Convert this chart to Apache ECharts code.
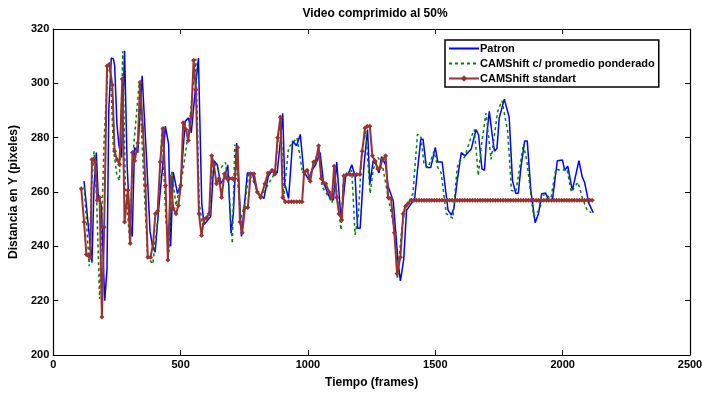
<!DOCTYPE html>
<html>
<head>
<meta charset="utf-8">
<script src="https://cdn.jsdelivr.net/npm/echarts@6/dist/echarts.min.js"></script>
<style>
  html, body { margin: 0; padding: 0; background: #fff; }
  #chart { width: 720px; height: 394px; }
</style>
</head>
<body>
<div id="chart"></div>
<script>
// datos: [frame, distancia en Y]
const xTicks = [0, 500, 1000, 1500, 2000, 2500];
const yTicks = [200, 220, 240, 260, 280, 300, 320];

const patron = [
  [121, 264], [135, 250], [152, 234], [160, 262], [169, 274.5], [176, 259.4], [189, 255], [202, 220],
  [211, 231.5], [218, 290], [228, 309.3], [236, 309], [241, 306.7], [250, 285], [258, 277], [268, 272.7],
  [280, 312], [290, 270], [300, 250], [310, 243.6], [319, 276.4], [332, 274.5], [349, 302.8], [365, 274.7],
  [380, 245.5], [390, 240], [400, 237.8], [415, 255], [430, 270], [440, 284.2], [453, 277.6], [461, 240],
  [471, 267.3], [488, 259.4], [500, 263], [518, 286], [531, 287.3], [542, 281.8], [560, 300], [570, 309.3],
  [583, 255.8], [592, 248], [618, 251], [631, 271.5], [644, 270], [657, 263], [673, 265.5], [685, 270],
  [698, 244.8], [707, 252], [720, 278], [728, 264], [739, 243.6], [750, 254.5], [762, 267], [782, 267],
  [800, 260], [827, 257.6], [845, 266], [860, 268], [879, 267], [893, 280], [901, 289], [909, 263],
  [924, 257.6], [940, 278.8], [955, 277], [970, 281.2], [983, 267.9], [1003, 264.5], [1015, 268], [1030, 270],
  [1048, 274.5], [1061, 263.4], [1085, 258], [1100, 257], [1113, 271], [1130, 249.5], [1148, 266], [1160, 267],
  [1172, 270], [1185, 266], [1195, 246.7], [1205, 246.7], [1220, 270], [1234, 283], [1243, 263], [1256, 271.5],
  [1268, 270], [1279, 267], [1289, 273], [1305, 270], [1315, 262], [1335, 256.7], [1354, 234], [1363, 227.3],
  [1376, 235.2], [1387, 253.3], [1400, 255], [1419, 257.6], [1430, 268], [1443, 279.4], [1452, 279.4], [1465, 269],
  [1482, 269], [1500, 276.4], [1510, 271], [1527, 271], [1550, 253.3], [1563, 251.5], [1573, 254], [1586, 264.2],
  [1602, 274.5], [1617, 273.3], [1641, 275.8], [1660, 283], [1670, 281], [1683, 268.5], [1693, 268], [1703, 281.8],
  [1712, 289.7], [1722, 282], [1732, 275], [1742, 276], [1751, 287.3], [1771, 294.2], [1790, 287.5], [1803, 264.2],
  [1816, 259.4], [1826, 259.6], [1836, 269], [1851, 278.8], [1861, 278.8], [1875, 260.6], [1892, 248.7], [1905, 252],
  [1918, 259.4], [1933, 259.6], [1945, 257], [1960, 257.2], [1979, 271.5], [1999, 271.8], [2008, 268], [2020, 269.5],
  [2038, 260.6], [2064, 271.5], [2077, 265.5], [2086, 263.6], [2103, 255.8], [2120, 252.4]
];

const promedio = [
  [121, 262], [130, 250], [141, 232.7], [150, 262], [160, 275], [170, 258], [182, 220.6], [200, 280],
  [215, 306.7], [225, 304], [236, 276], [250, 266], [260, 264.2], [273, 311.8], [283, 262], [300, 242.4],
  [313, 274], [338, 300.6], [355, 265], [371, 236], [391, 233.5], [410, 250], [427, 283.6], [442, 250],
  [455, 238], [465, 268], [482, 255], [508, 267], [535, 285], [550, 300], [560, 309], [573, 256],
  [585, 248], [612, 251], [625, 272], [650, 268], [676, 270.9], [690, 261], [703, 241], [713, 277.5],
  [724, 264], [736, 250], [753, 256], [768, 267], [790, 263], [815, 258], [870, 267], [892, 288.5],
  [905, 258], [924, 276.4], [937, 277.6], [957, 280], [977, 268], [1003, 264.5], [1042, 275.5], [1055, 262],
  [1083, 258], [1094, 256], [1108, 264], [1130, 246], [1139, 264], [1158, 267], [1172, 267.9], [1185, 244.2],
  [1198, 251], [1211, 274.5], [1227, 282.4], [1244, 259.4], [1257, 268.5], [1276, 272.7], [1295, 268.5], [1315, 258],
  [1341, 246], [1351, 227.9], [1367, 245], [1380, 253.3], [1393, 255.8], [1412, 259.4], [1430, 281.2], [1443, 280.6],
  [1456, 270], [1472, 269], [1495, 275], [1510, 269], [1523, 267], [1543, 252], [1569, 250.3], [1586, 269],
  [1595, 271.5], [1614, 272.7], [1640, 280], [1653, 283], [1669, 266], [1680, 276.4], [1699, 289], [1719, 272],
  [1745, 289.7], [1762, 293.6], [1784, 282.4], [1799, 260.6], [1816, 260], [1846, 277.6], [1859, 271.5], [1886, 251],
  [1908, 253.3], [1928, 259.4], [1954, 257.6], [1973, 268.5], [1992, 267.9], [2017, 268.5], [2034, 260], [2060, 263.6],
  [2077, 258], [2096, 253.3], [2112, 252.4]
];

const standart = [
  [110, 261.2], [121, 249], [130, 237], [138, 236.5], [146, 236], [152, 272], [160, 272], [165, 271],
  [173, 257], [182, 258], [191, 214], [200, 247], [211, 306.4], [220, 307], [232, 299.4], [241, 275],
  [250, 272], [260, 270], [271, 301.6], [280, 249], [293, 260.6], [302, 241], [311, 274.5], [320, 271.5],
  [332, 278], [341, 300.4], [352, 283.6], [362, 262.4], [371, 236], [382, 236], [392, 241], [401, 252],
  [410, 253], [420, 271], [431, 283.4], [441, 262.4], [450, 235], [461, 265.5], [471, 254], [482, 252],
  [491, 255], [501, 262.4], [510, 285.5], [521, 283], [530, 279], [542, 288], [551, 308.5], [560, 297.6],
  [572, 252], [582, 244], [592, 250], [602, 250.5], [612, 252], [622, 273.3], [631, 270], [641, 263],
  [651, 265], [661, 258], [672, 266.7], [682, 265], [692, 265], [703, 265], [713, 265], [724, 276.4],
  [733, 249], [742, 245], [753, 254.3], [764, 254.3], [775, 266.7], [788, 266.7], [801, 260], [814, 258],
  [831, 263], [843, 267], [859, 268], [870, 266.5], [881, 280], [892, 287.5], [901, 258], [911, 256.4],
  [924, 256.4], [935, 256.4], [945, 256.4], [956, 256.4], [967, 256.4], [977, 256.4], [985, 267.3], [997, 268],
  [1009, 264], [1022, 271], [1031, 271.5], [1042, 277], [1052, 265], [1061, 263.4], [1070, 263], [1083, 260],
  [1094, 258], [1103, 269.5], [1113, 258], [1122, 252], [1133, 249.7], [1141, 266], [1152, 266.4], [1165, 266.4],
  [1178, 266.4], [1191, 266.4], [1204, 266.4], [1213, 275], [1224, 283.6], [1233, 284.2], [1243, 284.2], [1253, 273.3],
  [1263, 271.5], [1274, 268.5], [1283, 269], [1293, 272], [1305, 273.3], [1315, 258], [1326, 257.6], [1339, 245],
  [1350, 230], [1363, 236], [1374, 252], [1383, 254.8], [1393, 255.8], [1406, 257],
  [1416, 257], [1426, 257], [1436, 257], [1446, 257], [1456, 257], [1466, 257], [1476, 257], [1486, 257],
  [1496, 257], [1506, 257], [1516, 257], [1526, 257], [1536, 257], [1546, 257], [1556, 257], [1566, 257],
  [1576, 257], [1586, 257], [1596, 257], [1606, 257], [1616, 257], [1626, 257], [1636, 257], [1646, 257],
  [1656, 257], [1666, 257], [1676, 257], [1686, 257], [1696, 257], [1706, 257], [1716, 257], [1726, 257],
  [1736, 257], [1746, 257], [1756, 257], [1766, 257], [1776, 257], [1786, 257], [1796, 257], [1806, 257],
  [1816, 257], [1826, 257], [1836, 257], [1846, 257], [1856, 257], [1866, 257], [1876, 257], [1886, 257],
  [1896, 257], [1906, 257], [1916, 257], [1926, 257], [1936, 257], [1946, 257], [1956, 257], [1966, 257],
  [1976, 257], [1986, 257], [1996, 257], [2006, 257], [2016, 257], [2026, 257], [2036, 257], [2046, 257],
  [2056, 257], [2066, 257], [2076, 257], [2086, 257], [2096, 257], [2106, 257], [2116, 257]
];

const font = "'Liberation Sans', Arial, sans-serif";

const chart = echarts.init(document.getElementById("chart"));

// eje tipo matlab: caja completa con marcas hacia adentro
function xAx(pos, show) {
  return {
    type: "value",
    position: pos,
    min: xTicks[0],
    max: xTicks[xTicks.length - 1],
    interval: 500,
    name: show ? "Tiempo (frames)" : "",
    nameLocation: "middle",
    nameGap: 22,
    nameTextStyle: { fontFamily: font, fontWeight: "bold", fontSize: 12, color: "#000" },
    axisLine: { show: true, onZero: false, lineStyle: { color: "#000", width: 1.2 } },
    axisTick: { show: true, inside: true, length: 5, lineStyle: { color: "#000" } },
    axisLabel: {
      show: show, margin: 4, fontFamily: font, fontWeight: "bold", fontSize: 11, color: "#000",
      formatter: v => String(v)
    },
    splitLine: { show: false }
  };
}
function yAx(pos, show) {
  return {
    type: "value",
    position: pos,
    min: yTicks[0],
    max: yTicks[yTicks.length - 1],
    interval: 20,
    name: show ? "Distancia en Y (pixeles)" : "",
    nameLocation: "middle",
    nameGap: 27,
    nameTextStyle: { fontFamily: font, fontWeight: "bold", fontSize: 12, color: "#000" },
    axisLine: { show: true, onZero: false, lineStyle: { color: "#000", width: 1.2 } },
    axisTick: { show: true, inside: true, length: 5, lineStyle: { color: "#000" } },
    axisLabel: { show: show, margin: 4, fontFamily: font, fontWeight: "bold", fontSize: 11, color: "#000" },
    splitLine: { show: false }
  };
}

chart.setOption({
  animation: false,
  backgroundColor: "#fff",
  title: {
    text: "Video comprimido al 50%",
    left: 370,
    top: 3,
    textAlign: "center",
    textStyle: { fontFamily: font, fontWeight: "bold", fontSize: 12, color: "#000" }
  },
  grid: { left: 49, right: 30, top: 29, bottom: 36 },
  legend: {
    orient: "vertical",
    left: 445,
    top: 40,
    itemWidth: 30,
    itemHeight: 8,
    itemGap: 4,
    padding: [3, 4, 3, 3],
    borderColor: "#000",
    borderWidth: 1.5,
    backgroundColor: "#fff",
    textStyle: { fontFamily: font, fontWeight: "bold", fontSize: 11, color: "#000", padding: [0, 0, 0, -4] },
    data: [
      { name: "Patron", itemStyle: { opacity: 0 } },
      { name: "CAMShift c/ promedio ponderado", itemStyle: { opacity: 0 } },
      { name: "CAMShift standart" }
    ]
  },
  xAxis: [xAx("bottom", true), xAx("top", false)],
  yAxis: [yAx("left", true), yAx("right", false)],
  series: [
    {
      name: "Patron",
      type: "line",
      data: patron,
      symbol: "none",
      color: "#0000ff",
      lineStyle: { width: 1.5, color: "#0000ff" }
    },
    {
      name: "CAMShift c/ promedio ponderado",
      type: "line",
      data: promedio,
      symbol: "none",
      color: "#008000",
      lineStyle: { width: 1.5, type: [3, 3], color: "#008000" }
    },
    {
      name: "CAMShift standart",
      type: "line",
      data: standart,
      symbol: "diamond",
      symbolSize: 5,
      color: "#993333",
      itemStyle: { color: "#993333" },
      lineStyle: { width: 2, color: "#993333" }
    }
  ]
});
</script>
</body>
</html>
